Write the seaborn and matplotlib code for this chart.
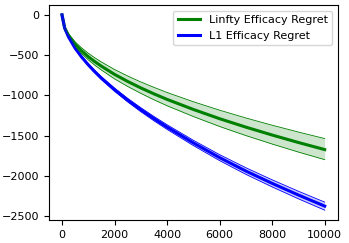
import numpy as np
import pandas as pd
import matplotlib
matplotlib.use("Agg")
import matplotlib.pyplot as plt
import seaborn as sns

# values
steps = [0, 100, 250, 500, 750, 1000, 1250, 1500, 2000, 2500, 3000, 3500, 4000,
         5000, 6000, 7000, 8000, 9000, 10000]

linf_mean = [0, -162, -257, -366, -449, -520, -582, -638, -740, -828, -908, -982, -1051,
             -1176, -1291, -1396, -1494, -1587, -1675]
linf_high = [0, -149, -236, -336, -412, -477, -534, -586, -679, -760, -834, -901, -965,
             -1080, -1185, -1282, -1372, -1457, -1538]
linf_low = [0, -174, -276, -393, -483, -559, -626, -686, -796, -890, -976, -1056, -1130,
            -1264, -1388, -1501, -1606, -1706, -1800]

l1_mean = [0, -162, -277, -415, -525, -621, -707, -787, -930, -1060, -1179, -1290, -1395,
           -1592, -1775, -1942, -2095, -2240, -2378]
l1_high = [0, -159, -271, -406, -514, -608, -692, -770, -910, -1038, -1154, -1263, -1366,
           -1559, -1738, -1901, -2051, -2193, -2328]
l1_low = [0, -165, -283, -424, -536, -634, -722, -804, -950, -1082, -1204, -1317, -1424,
          -1625, -1812, -1983, -2139, -2287, -2428]

df = pd.DataFrame({
    "step": steps * 2,
    "regret": linf_mean + l1_mean,
    "name": ["Linfty Efficacy Regret"] * len(steps) + ["L1 Efficacy Regret"] * len(steps),
})

fig, ax = plt.subplots(figsize=(3.49, 2.43), dpi=100)
fig.subplots_adjust(left=0.14, right=0.968, bottom=0.095, top=0.979)

sns.lineplot(data=df, x="step", y="regret", hue="name",
             palette={"Linfty Efficacy Regret": "green", "L1 Efficacy Regret": "blue"},
             linewidth=2.2, ax=ax)

for low, high, c in [(linf_low, linf_high, "green"), (l1_low, l1_high, "blue")]:
    ax.fill_between(steps, low, high, color=c, alpha=0.2, linewidth=0)
    ax.plot(steps, low, color=c, linewidth=0.6)
    ax.plot(steps, high, color=c, linewidth=0.6)

ax.set_xlabel("")
ax.set_ylabel("")
ax.tick_params(labelsize=8)
ax.set_xticks([0, 2000, 4000, 6000, 8000, 10000])
ax.legend(loc="upper right", fontsize=8)

fig.savefig("out.png", dpi=100)
